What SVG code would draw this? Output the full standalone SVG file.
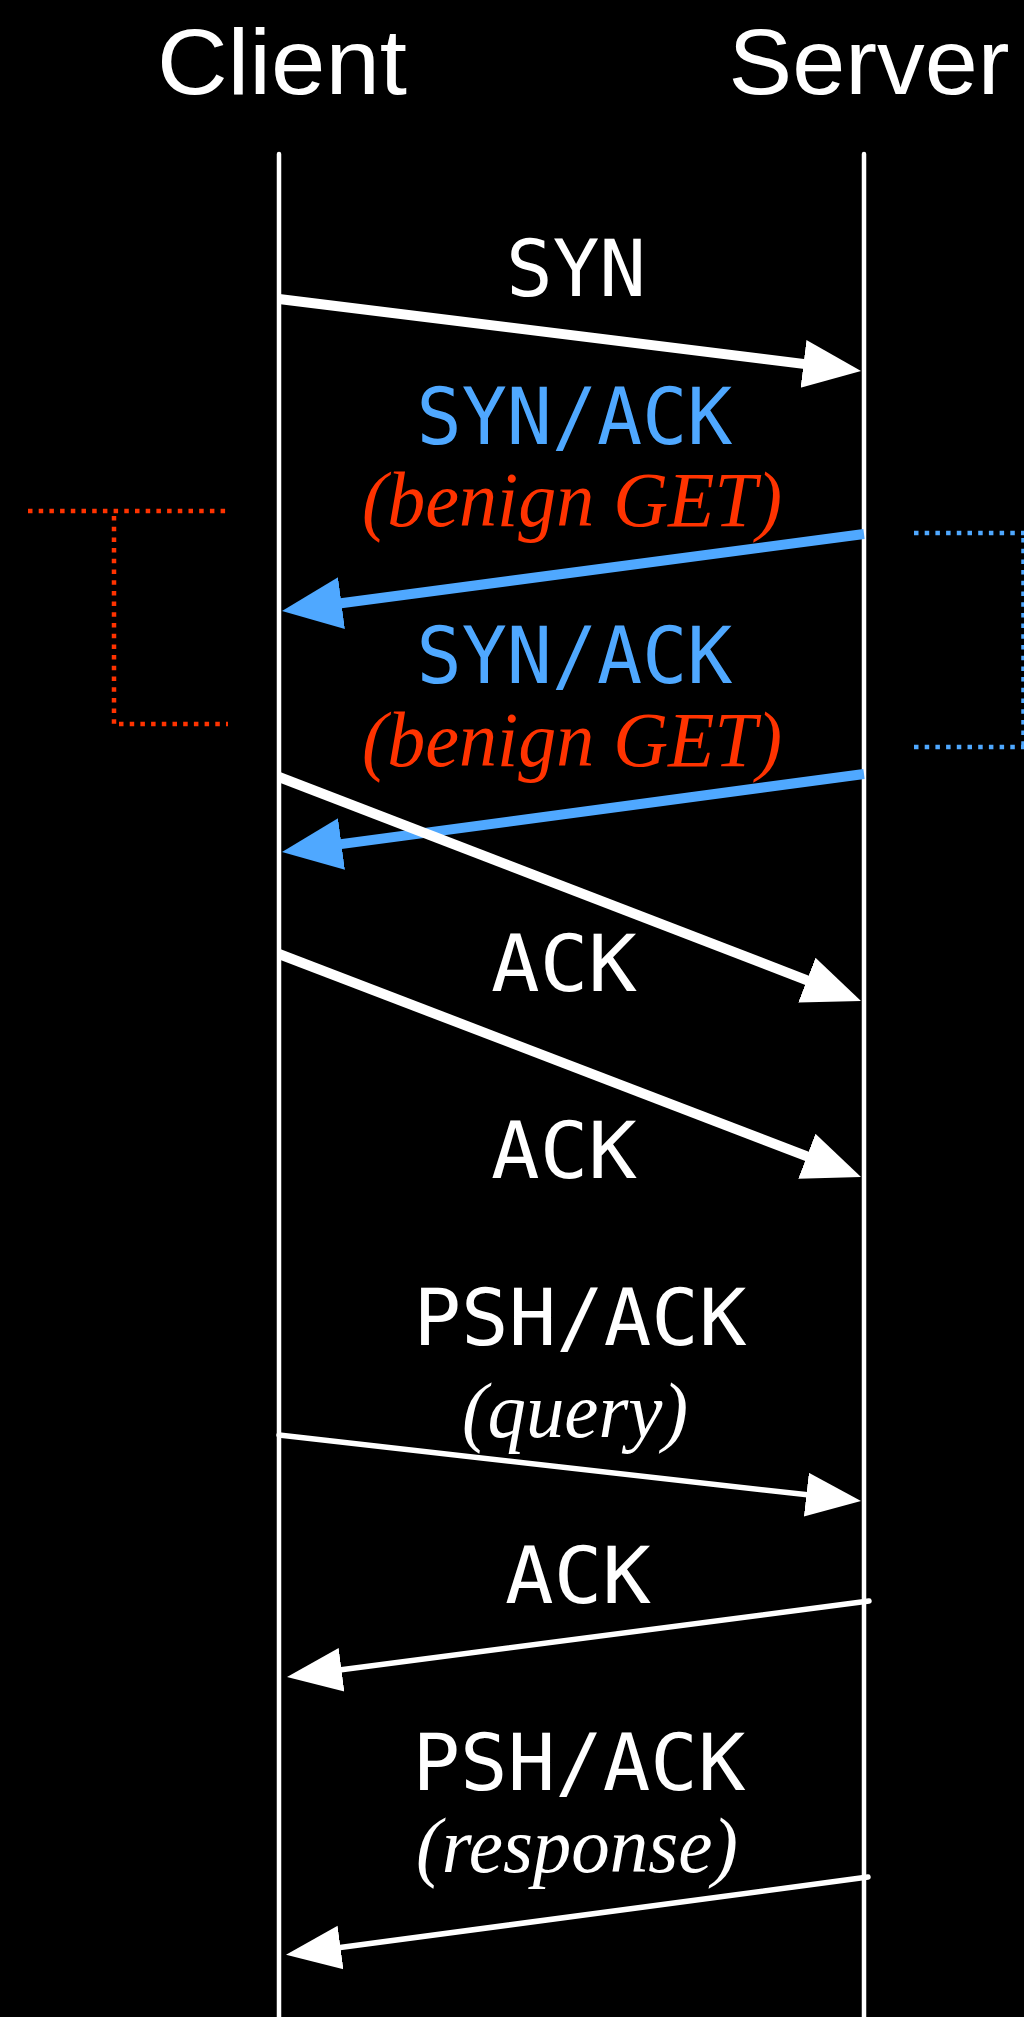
<svg xmlns="http://www.w3.org/2000/svg" width="1024" height="2017" viewBox="0 0 1024 2017">
  <style>
    .actor { font-family: "Liberation Sans", Arial, sans-serif; font-size: 93px; fill: #ffffff; text-anchor: middle; }
    .mono { font-family: "DejaVu Sans Mono", "Liberation Mono", monospace; font-size: 78px; text-anchor: middle; }
    .white { fill: #ffffff; }
    .blue { fill: #4fa8ff; }
    .ital { font-family: "Liberation Serif", "Times New Roman", serif; font-style: italic; font-size: 79px; text-anchor: middle; }
    .red { fill: #ff3300; }
    .life { stroke: #ffffff; stroke-width: 4.5; stroke-linecap: round; fill: none; }
    .thick { stroke: #ffffff; stroke-width: 10; fill: none; marker-end: url(#headW); }
    .thickB { stroke: #4fa8ff; stroke-width: 10; fill: none; marker-end: url(#headB); }
    .thin { stroke: #ffffff; stroke-width: 5.5; fill: none; stroke-linecap: round; marker-end: url(#headT); }
    .dotR { stroke: #ff3300; stroke-width: 4.5; stroke-dasharray: 4.5 6.2; fill: none; }
    .dotB { stroke: #4fa8ff; stroke-width: 4.5; stroke-dasharray: 4.5 6.2; fill: none; }
  </style>
  <defs>
    <marker id="headW" markerUnits="userSpaceOnUse" markerWidth="70" markerHeight="60" viewBox="0 -30 70 60" refX="10" refY="0" orient="auto">
      <path d="M0,-24 L58,0 L0,24 Z" fill="#ffffff"/>
    </marker>
    <marker id="headB" markerUnits="userSpaceOnUse" markerWidth="70" markerHeight="60" viewBox="0 -30 70 60" refX="12" refY="0" orient="auto">
      <path d="M0,-26 L60,0 L0,26 Z" fill="#4fa8ff"/>
    </marker>
    <marker id="headT" markerUnits="userSpaceOnUse" markerWidth="70" markerHeight="60" viewBox="0 -30 70 60" refX="8" refY="0" orient="auto">
      <path d="M0,-22 L55,0 L0,22 Z" fill="#ffffff"/>
    </marker>
  </defs>
  <rect x="0" y="0" width="1024" height="2017" fill="#000000"/>

  <g id="client">
    <text class="actor" x="282" y="94" textLength="250" lengthAdjust="spacingAndGlyphs">Client</text>
    <line class="life" x1="279" y1="154" x2="279" y2="2030"/>
  </g>
  <g id="server">
    <text class="actor" x="869" y="94" textLength="281" lengthAdjust="spacingAndGlyphs">Server</text>
    <line class="life" x1="864" y1="154" x2="864" y2="2030"/>
  </g>

  <g id="bracket-red">
    <line class="dotR" x1="28" y1="511" x2="228" y2="511"/>
    <line class="dotR" x1="114" y1="516" x2="114" y2="726"/>
    <line class="dotR" x1="119" y1="724" x2="228" y2="724"/>
  </g>
  <g id="bracket-blue">
    <line class="dotB" x1="914" y1="533" x2="1024" y2="533"/>
    <line class="dotB" x1="1023.5" y1="538" x2="1023.5" y2="747"/>
    <line class="dotB" x1="914" y1="747" x2="1024" y2="747"/>
  </g>

  <g id="connectors">
    <line class="thick" x1="279" y1="299" x2="813.4" y2="365.1"/>
    <line class="thickB" x1="864" y1="534" x2="329.6" y2="604.7"/>
    <line class="thickB" x1="864" y1="774" x2="329.6" y2="845.6"/>
    <line class="thick" x1="279" y1="777" x2="816.2" y2="983.8"/>
    <line class="thick" x1="279" y1="954" x2="816.2" y2="1159.8"/>
    <line class="thin" x1="279" y1="1435" x2="814.3" y2="1495.6"/>
    <line class="thin" x1="869" y1="1601" x2="333.6" y2="1670.8"/>
    <line class="thin" x1="868" y1="1877" x2="332.6" y2="1948.6"/>
  </g>

  <g id="labels">
    <text class="mono white" x="576" y="296" font-size="82" textLength="140" lengthAdjust="spacingAndGlyphs">SYN</text>
    <text class="mono blue" x="574.5" y="444" textLength="316" lengthAdjust="spacingAndGlyphs">SYN/ACK</text>
    <text class="ital red" x="572" y="526" textLength="420" lengthAdjust="spacingAndGlyphs">(benign GET)</text>
    <text class="mono blue" x="574.5" y="683" textLength="316" lengthAdjust="spacingAndGlyphs">SYN/ACK</text>
    <text class="ital red" x="572" y="766" textLength="420" lengthAdjust="spacingAndGlyphs">(benign GET)</text>
    <text class="mono white" x="564" y="991" textLength="146" lengthAdjust="spacingAndGlyphs">ACK</text>
    <text class="mono white" x="564" y="1178" textLength="146" lengthAdjust="spacingAndGlyphs">ACK</text>
    <text class="mono white" x="580" y="1345" textLength="333" lengthAdjust="spacingAndGlyphs">PSH/ACK</text>
    <text class="ital white" x="575" y="1437" textLength="226" lengthAdjust="spacingAndGlyphs">(query)</text>
    <text class="mono white" x="578" y="1603" textLength="146" lengthAdjust="spacingAndGlyphs">ACK</text>
    <text class="mono white" x="579" y="1790" textLength="333" lengthAdjust="spacingAndGlyphs">PSH/ACK</text>
    <text class="ital white" x="577" y="1872" textLength="322" lengthAdjust="spacingAndGlyphs">(response)</text>
  </g>
</svg>
